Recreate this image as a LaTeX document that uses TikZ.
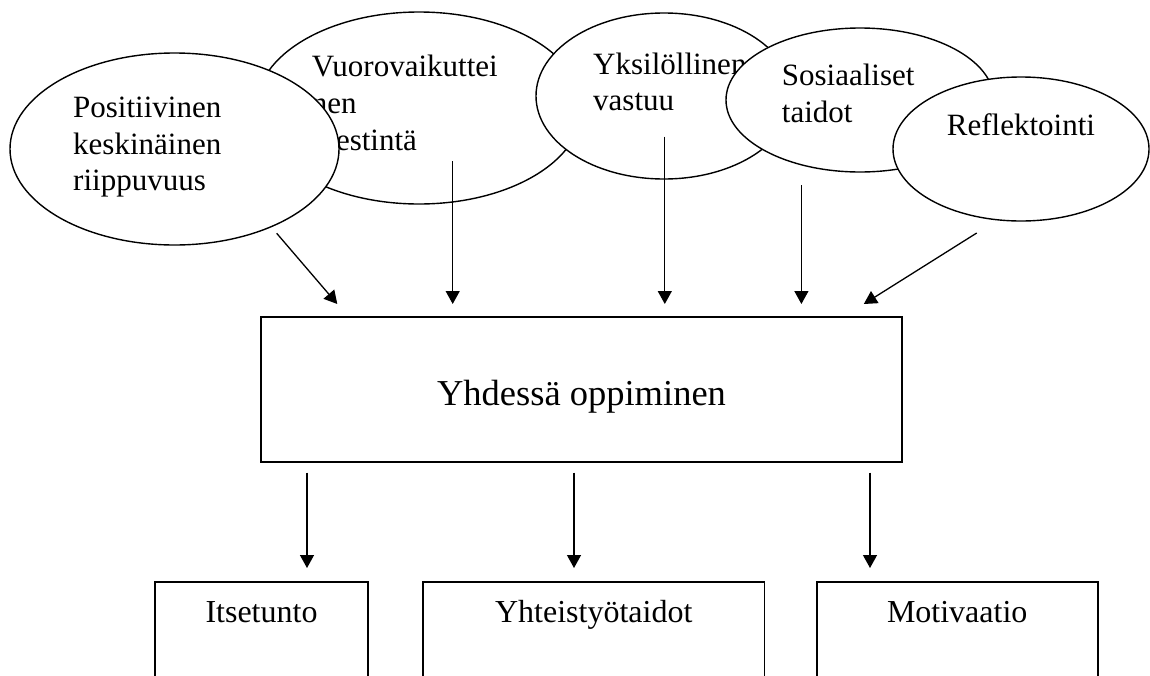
\documentclass[tikz,border=0pt]{standalone}
\usepackage{fontspec}
\setmainfont{Liberation Serif}
\usetikzlibrary{shapes.geometric,arrows.meta}

\begin{document}
\begin{tikzpicture}[x=1pt,y=-1pt,
  bubble/.style={ellipse, draw, line width=1.4pt, fill=white, inner sep=0pt},
  bubtext/.style={anchor=base west, inner sep=0pt, font=\fontsize{31}{36.7}\selectfont},
  box/.style={rectangle, draw, line width=1.6pt, fill=white, inner xsep=0pt, inner ysep=0pt},
  arr/.style={line width=1.3pt, -{Triangle[length=13pt,width=14pt]}}]
\useasboundingbox (0,0) rectangle (1150,675);
\clip (0,0) rectangle (1150,675);
\fill[white] (0,0) rectangle (1150,675);

% overlapping bubbles, each drawn with its own text before the next one
\node[bubble, minimum width=326pt, minimum height=192pt] (e2) at (419,108) {};
\node[bubtext] (e2a) at (311.7,76) {Vuorovaikuttei};
\node[bubtext] (e2b) at (311.7,113) {nen};
\node[bubtext] (e2c) at (311.7,150) {viestintä};

\node[bubble, minimum width=329pt, minimum height=192pt] (e1) at (174.5,149) {};
\node[bubtext] (e1a) at (73,117.3) {Positiivinen};
\node[bubtext] (e1b) at (73,154) {keskinäinen};
\node[bubtext] (e1c) at (73,190.7) {riippuvuus};

\node[bubble, minimum width=256pt, minimum height=166pt] (e3) at (664,96) {};
\node[bubtext] (e3a) at (593,74) {Yksilöllinen};
\node[bubtext] (e3b) at (593,110) {vastuu};

\node[bubble, minimum width=268pt, minimum height=144pt] (e4) at (860,100) {};
\node[bubtext] (e4a) at (781.7,85.7) {Sosiaaliset};
\node[bubtext] (e4b) at (781.7,122.7) {taidot};

\node[bubble, minimum width=256pt, minimum height=144pt] (e5) at (1021,149) {};
\node[bubtext] (e5a) at (946.7,135.7) {Reflektointi};

% central box
\node[box, minimum width=641pt, text height=88pt, text depth=57pt,
      font=\fontsize{36.5}{44}\selectfont, anchor=base] (main) at (581.5,405) {Yhdessä oppiminen};

% outcome boxes (open towards the bottom edge)
\node[box, minimum width=213pt, text height=40.3pt, text depth=100pt,
      font=\fontsize{32}{38}\selectfont, anchor=base] (it) at (261.5,622.3) {Itsetunto};
\node[box, minimum width=341.5pt, text height=40.3pt, text depth=100pt,
      font=\fontsize{32}{38}\selectfont, anchor=base] (yt) at (593.75,622.3) {Yhteistyötaidot};
\node[box, minimum width=281pt, text height=40.3pt, text depth=100pt,
      font=\fontsize{32}{38}\selectfont, anchor=base] (mo) at (957.2,622.3) {Motivaatio};

% arrow end points
\coordinate (a1s) at (276.7,233.3);  \coordinate (a1e) at (337.3,304);
\coordinate (a2s) at (452.7,161);    \coordinate (a2e) at (452.7,304);
\coordinate (a3s) at (664.8,136.7);  \coordinate (a3e) at (664.8,304);
\coordinate (a4s) at (801.4,185);    \coordinate (a4e) at (801.4,304);
\coordinate (a5s) at (976.7,233);    \coordinate (a5e) at (863.8,304);
\coordinate (d1s) at (307,472.7);    \coordinate (d1e) at (307,568);
\coordinate (d2s) at (574,472.7);    \coordinate (d2e) at (574,568);
\coordinate (d3s) at (870,472.7);    \coordinate (d3e) at (870,568);

\draw[arr] (a1s) -- (a1e);
\draw[arr] (a2s) -- (a2e);
\draw[arr] (a3s) -- (a3e);
\draw[arr] (a4s) -- (a4e);
\draw[arr] (a5s) -- (a5e);
\draw[arr] (d1s) -- (d1e);
\draw[arr] (d2s) -- (d2e);
\draw[arr] (d3s) -- (d3e);
\end{tikzpicture}
\end{document}
